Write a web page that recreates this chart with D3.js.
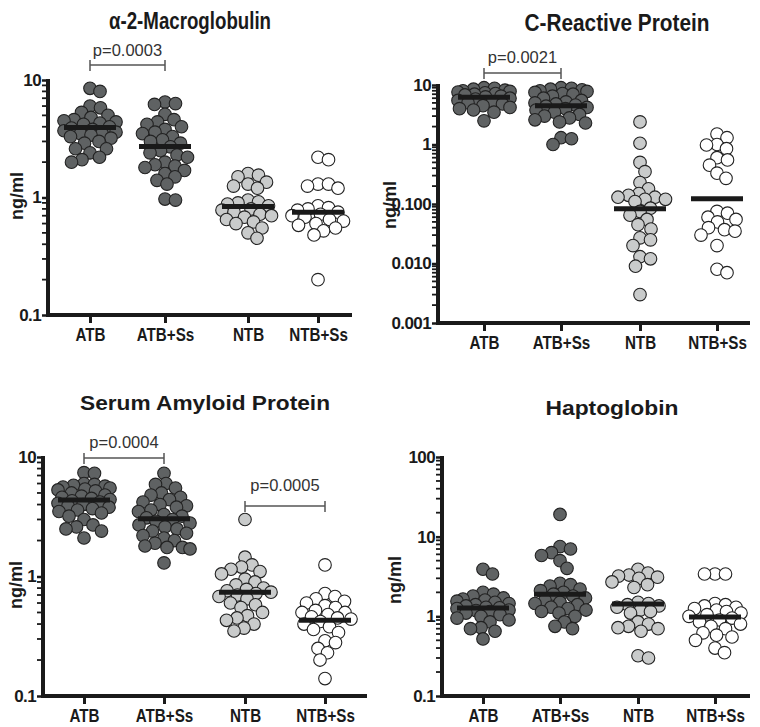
<!DOCTYPE html>
<html><head><meta charset="utf-8">
<script src="https://cdn.jsdelivr.net/npm/d3@7"></script>
<style>body{margin:0;background:#fff}svg{display:block}text{font-family:"Liberation Sans",Arial,sans-serif}</style>
</head><body><svg id="c" width="760" height="727"></svg>
<script>
const categories = ["ATB","ATB+Ss","NTB","NTB+Ss"];
const groupFill = ["#5f6263","#5f6263","#c9cbcb","#ffffff"];

// α-2-Macroglobulin
const a2mATB   = [8.5,8.0,6.0,5.8,5.3,5.0,4.8,4.6,4.5,4.4,4.3,4.2,4.0,3.9,3.8,3.7,3.6,3.5,3.5,3.4,3.3,3.2,3.0,2.9,2.6,2.6,2.4,2.2,2.0,2.1];
const a2mATBSs = [6.5,6.3,6.2,5.1,4.6,4.4,4.2,4.0,3.8,3.6,3.5,3.3,3.1,3.0,2.9,2.7,2.5,2.4,2.3,2.2,2.0,1.9,1.85,1.8,1.7,1.6,1.5,1.4,1.3,0.97,0.95];
const a2mNTB   = [1.6,1.55,1.5,1.35,1.3,1.25,1.2,0.95,0.92,0.9,0.88,0.85,0.8,0.78,0.75,0.72,0.7,0.68,0.65,0.62,0.6,0.55,0.5,0.45];
const a2mNTBSs = [2.2,2.1,1.3,1.3,1.25,1.2,0.85,0.82,0.8,0.78,0.75,0.72,0.7,0.68,0.65,0.63,0.6,0.58,0.55,0.52,0.48,0.2];
const a2mMedian = [3.95,2.72,0.84,0.75];

// C-Reactive Protein
const crpATB   = [9.0,8.8,8.5,8.2,8.0,7.8,7.6,7.4,7.2,7.0,6.8,6.5,6.3,6.0,5.8,5.5,5.2,5.0,4.8,4.5,4.2,4.0,3.8,3.5,2.5];
const crpATBSs = [9.0,8.8,8.5,8.3,8.0,7.8,7.5,7.2,7.0,6.5,6.0,5.5,5.2,5.0,4.8,4.6,4.4,4.2,4.0,3.8,3.5,3.2,3.0,2.8,2.6,2.4,2.3,1.3,1.25,1.0];
const crpNTB   = [2.4,1.05,0.5,0.35,0.23,0.18,0.15,0.14,0.13,0.13,0.12,0.12,0.11,0.085,0.075,0.065,0.055,0.045,0.038,0.027,0.025,0.02,0.013,0.012,0.009,0.003];
const crpNTBSs = [1.5,1.3,1.0,0.98,0.85,0.6,0.55,0.45,0.33,0.27,0.075,0.07,0.06,0.055,0.05,0.04,0.037,0.035,0.03,0.02,0.008,0.007];
const crpMedian = [6.2,4.5,0.083,0.122];

// Serum Amyloid Protein
const sapATB   = [7.4,7.3,6.0,5.9,5.8,5.7,5.6,5.5,5.4,5.3,5.2,5.0,4.8,4.7,4.6,4.5,4.4,4.3,4.2,4.1,4.0,3.9,3.8,3.7,3.6,3.5,3.4,3.2,3.0,2.7,2.6,2.5,2.4,2.1];
const sapATBSs = [7.3,6.0,5.9,5.5,5.0,4.8,4.6,4.4,4.2,4.0,3.9,3.8,3.6,3.5,3.3,3.2,3.1,3.0,2.9,2.8,2.7,2.6,2.5,2.4,2.3,2.2,2.1,2.0,1.9,1.8,1.75,1.75,1.7,1.3];
const sapNTB   = [3.0,1.45,1.25,1.2,1.15,1.1,1.05,0.95,0.9,0.85,0.8,0.78,0.76,0.74,0.72,0.7,0.68,0.65,0.6,0.58,0.55,0.5,0.47,0.45,0.43,0.4,0.37,0.35];
const sapNTBSs = [1.25,0.72,0.68,0.65,0.62,0.6,0.57,0.55,0.52,0.5,0.5,0.48,0.46,0.45,0.44,0.42,0.4,0.38,0.36,0.34,0.29,0.28,0.25,0.23,0.2,0.14];
const sapMedian = [4.36,3.05,0.74,0.43];

// Haptoglobin
const hpATB   = [3.9,3.4,2.0,1.9,1.8,1.7,1.65,1.6,1.55,1.5,1.45,1.4,1.35,1.3,1.28,1.25,1.2,1.18,1.15,1.1,1.05,1.0,0.95,0.9,0.85,0.72,0.7,0.65,0.52];
const hpATBSs = [19,7.5,7.0,6.3,5.8,5.0,4.0,2.6,2.5,2.4,2.2,2.1,2.0,1.9,1.8,1.7,1.6,1.5,1.45,1.4,1.3,1.25,1.2,1.15,1.1,1.0,0.85,0.75,0.7];
const hpNTB   = [3.9,3.5,3.3,3.2,3.1,3.0,2.7,2.5,2.3,1.5,1.45,1.4,1.35,1.3,1.2,1.15,1.1,0.85,0.8,0.75,0.72,0.7,0.65,0.32,0.3];
const hpNTBSs = [3.4,3.4,3.4,1.45,1.4,1.35,1.3,1.25,1.2,1.15,1.1,1.05,1.0,0.95,0.9,0.85,0.8,0.75,0.7,0.62,0.58,0.55,0.5,0.4,0.35];
const hpMedian = [1.27,1.9,1.43,0.98];

const titles = ["α-2-Macroglobulin","C-Reactive Protein","Serum Amyloid Protein","Haptoglobin"];
const yDomains = [[0.1,10],[0.001,10],[0.1,10],[0.1,100]];
const yTickValues = [[0.1,1,10],[0.001,0.01,0.1,1,10],[0.1,1,10],[0.1,1,10,100]];
const yTickLabels = [["0.1","1","10"],["0.001","0.010","0.100","1","10"],["0.1","1","10"],["0.1","1","10","100"]];
const pLabels = [[["p=0.0003",0,1]],[["p=0.0021",0,1]],[["p=0.0004",0,1],["p=0.0005",2,3]],[]];

const panelData = [
  {groups:[a2mATB,a2mATBSs,a2mNTB,a2mNTBSs], med:a2mMedian},
  {groups:[crpATB,crpATBSs,crpNTB,crpNTBSs], med:crpMedian},
  {groups:[sapATB,sapATBSs,sapNTB,sapNTBSs], med:sapMedian},
  {groups:[hpATB,hpATBSs,hpNTB,hpNTBSs], med:hpMedian}
];

// layout (pixels)
const layouts = [
  {ax:48, xEnd:352, yTop:80, yBot:315, xs:[90,165,248,318], title:[190,29,162,24], ylab:[17,196], p:[[50,65]]},
  {ax:438, xEnd:750, yTop:85, yBot:323, xs:[484,561,640,717], title:[617,31,185,23], ylab:[390,205], p:[[57,73]]},
  {ax:43, xEnd:367, yTop:457, yBot:696, xs:[84,164,245,325], title:[205,410,250,21], ylab:[16,585], p:[[442,458],[485,506]]},
  {ax:442, xEnd:750, yTop:457, yBot:696, xs:[483,560,638,715], title:[612,415,133,21], ylab:[395,580], p:[]}
];

const svg = d3.select("#c");
const R = 6.3;

function swarm(vals, y, r, half){
  const pts = vals.map(v=>({v, y:y(v)})).sort((a,b)=>a.y-b.y);
  const placed = [];
  const minD = 2*r*0.82;
  const cands = [];
  for(let x=0;x<=half;x+=0.5){ cands.push(x); if(x>0) cands.push(-x); }
  pts.forEach(p=>{
    let best=null, bestPen=Infinity;
    for(const cx of cands){
      let pen=0;
      for(const q of placed){
        const dx=cx-q.x, dy=p.y-q.y, d=Math.hypot(dx,dy);
        if(d<minD) pen+=minD-d;
      }
      if(pen===0){best=cx;break;}
      if(pen<bestPen){bestPen=pen;best=cx;}
    }
    p.x=best; placed.push(p);
  });
  return placed;
}

panelData.forEach((pd,i)=>{
  const L = layouts[i];
  const g = svg.append("g");
  const y = d3.scaleLog().domain(yDomains[i]).range([L.yBot,L.yTop]);
  const x = d3.scaleOrdinal().domain(categories).range(L.xs);

  // title
  g.append("text").attr("x",L.title[0]).attr("y",L.title[1]).attr("text-anchor","middle")
    .attr("font-size",L.title[3]).attr("font-weight","bold").attr("fill","#1a1a1a")
    .attr("textLength",L.title[2]).attr("lengthAdjust","spacingAndGlyphs").text(titles[i]);

  // y axis label
  g.append("text").attr("transform",`translate(${L.ylab[0]},${L.ylab[1]}) rotate(-90)`)
    .attr("text-anchor","middle").attr("dy","0.35em").attr("font-size",18).attr("font-weight","bold")
    .attr("fill","#1a1a1a").text("ng/ml");

  // minor ticks
  const [d0,d1] = yDomains[i];
  const minor = [];
  for(let e=Math.log10(d0); e<Math.log10(d1); e++){
    for(let k=2;k<=9;k++) minor.push(k*Math.pow(10,e));
  }
  g.selectAll(".mn").data(minor).join("line")
    .attr("x1",L.ax-6).attr("x2",L.ax).attr("y1",d=>y(d)).attr("y2",d=>y(d))
    .attr("stroke","#1a1a1a").attr("stroke-width",1.8);

  // y axis
  const yAxis = d3.axisLeft(y).tickValues(yTickValues[i]).tickFormat((d,j)=>yTickLabels[i][j]).tickSize(6).tickPadding(1);
  const ya = g.append("g").attr("transform",`translate(${L.ax},0)`).call(yAxis);
  ya.select(".domain").remove();
  ya.selectAll(".tick line").attr("stroke","#1a1a1a").attr("stroke-width",2.5);
  ya.selectAll(".tick text").attr("font-size",17).attr("font-weight","bold").attr("fill","#1a1a1a")
    .attr("font-family","Liberation Sans, Arial, sans-serif").attr("letter-spacing","-0.6");
  g.append("line").attr("x1",L.ax).attr("x2",L.ax).attr("y1",L.yTop-1).attr("y2",L.yBot+2)
    .attr("stroke","#1a1a1a").attr("stroke-width",4);

  // x axis
  g.append("line").attr("x1",L.ax-2).attr("x2",L.xEnd).attr("y1",L.yBot).attr("y2",L.yBot)
    .attr("stroke","#1a1a1a").attr("stroke-width",4);
  const xAxis = d3.axisBottom(x).tickSize(8).tickPadding(5);
  const xa = g.append("g").attr("transform",`translate(0,${L.yBot})`).call(xAxis);
  xa.select(".domain").remove();
  xa.selectAll(".tick line").attr("stroke","#1a1a1a").attr("stroke-width",3);
  xa.selectAll(".tick text").attr("font-size",19).attr("font-weight","bold").attr("fill","#1a1a1a")
    .attr("font-family","Liberation Sans, Arial, sans-serif").attr("transform","scale(0.8,1)");

  // points
  pd.groups.forEach((vals,k)=>{
    const cx = x(categories[k]);
    const pts = swarm(vals,y,R,26);
    g.append("g").selectAll("circle").data(pts).join("circle")
      .attr("cx",d=>cx+d.x).attr("cy",d=>d.y).attr("r",R)
      .attr("fill",groupFill[k]).attr("stroke","#222").attr("stroke-width",1.1);
  });

  // median lines
  g.selectAll(".med").data(pd.med).join("line")
    .attr("x1",(d,k)=>x(categories[k])-26).attr("x2",(d,k)=>x(categories[k])+26)
    .attr("y1",d=>y(d)).attr("y2",d=>y(d)).attr("stroke","#1a1a1a").attr("stroke-width",5);

  // p-values
  pLabels[i].forEach((pl,j)=>{
    const [ty,by] = L.p[j];
    const xa1 = x(categories[pl[1]]), xa2 = x(categories[pl[2]]);
    g.append("text").attr("x",(xa1+xa2)/2).attr("y",ty+6).attr("text-anchor","middle")
      .attr("font-size",16.5).attr("fill","#333").text(pl[0]);
    g.append("path").attr("d",`M${xa1},${by-5}V${by+6}M${xa1},${by}H${xa2}M${xa2},${by-5}V${by+6}`)
      .attr("fill","none").attr("stroke","#555").attr("stroke-width",1.5);
  });
});
</script></body></html>
